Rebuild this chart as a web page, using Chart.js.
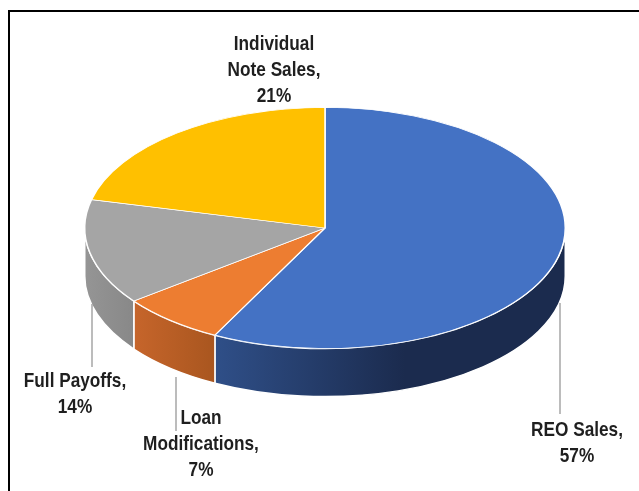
<!DOCTYPE html>
<html>
<head>
<meta charset="utf-8">
<script src="https://cdn.jsdelivr.net/npm/chart.js@4.4.0/dist/chart.umd.min.js"></script>
<style>
  html, body { margin: 0; padding: 0; background: #fff; overflow: hidden; }
  #wrap { position: relative; width: 639px; height: 491px; }
  #frame { position: absolute; left: 8px; top: 10px; width: 700px; height: 600px; border: 2.5px solid #000; }
  #pie { position: absolute; left: 0; top: 0; }
</style>
</head>
<body>
<div id="wrap">
  <div id="frame"></div>
  <canvas id="pie" width="639" height="491"></canvas>
</div>
<script>
// chart data
const categories = ['REO Sales', 'Loan Modifications', 'Full Payoffs', 'Individual Note Sales'];
const shares = [57, 7, 14, 21];

// colours for the top face and the side wall (left / right of gradient)
const topColors = ['#4472C4', '#ED7D31', '#A5A5A5', '#FFC000'];
const sideColors = [['#2F4F88', '#1B2B4E'], ['#C6652B', '#A9561F'], ['#959595', '#888888'], ['#BF9000', '#A67C00']];

// label placement: centre x, first line centre y, leader line
const labelLayout = [
    { x: 577, y: 430, line: [560, 303, 414] },
    { x: 201, y: 418, line: [176, 377, 431] },
    { x: 75, y: 381, line: [92, 304, 367] },
    { x: 274, y: 44, line: null }
];

// Draws the pie as a tilted disc: side walls first, then squash the arcs
const pie3d = {
    id: 'pie3d',
    beforeDatasetsDraw(chart, args, opts) {
        const ctx = chart.ctx;
        const arcs = chart.getDatasetMeta(0).data;
        const cx = arcs[0].x, cy0 = arcs[0].y, r = arcs[0].outerRadius;
        const ry = r * opts.tilt;

        arcs.forEach(function (arc, i) {
            const a1 = Math.max(arc.startAngle, 0);
            const a2 = Math.min(arc.endAngle, Math.PI);
            if (a2 <= a1) return;
            const xl = cx + r * Math.cos(a2);
            const xr = cx + r * Math.cos(a1);
            const grad = ctx.createLinearGradient(xl, 0, Math.min(xr, xl + 190), 0);
            grad.addColorStop(0, sideColors[i][0]);
            grad.addColorStop(1, sideColors[i][1]);
            ctx.beginPath();
            ctx.ellipse(cx, opts.centerY, r, ry, 0, a1, a2);
            ctx.ellipse(cx, opts.centerY + opts.depth, r, ry, 0, a2, a1, true);
            ctx.closePath();
            ctx.fillStyle = grad;
            ctx.fill();
            ctx.strokeStyle = '#fff';
            ctx.lineWidth = 1.5;
            ctx.stroke();
        });

        ctx.save();
        ctx.translate(0, opts.centerY);
        ctx.scale(1, opts.tilt);
        ctx.translate(0, -cy0);
    },
    afterDatasetsDraw(chart) {
        chart.ctx.restore();
    }
};

// Data labels with leader lines (narrow bold text = squeezed Liberation Sans)
const pieLabels = {
    id: 'pieLabels',
    afterDraw(chart) {
        const ctx = chart.ctx;
        const squeeze = 0.82;
        const lineH = 26;
        ctx.save();
        ctx.font = 'bold 21px "Liberation Sans", Arial, sans-serif';
        ctx.textAlign = 'center';
        ctx.textBaseline = 'middle';
        categories.forEach(function (name, i) {
            const pos = labelLayout[i];
            if (pos.line) {
                ctx.strokeStyle = '#A6A6A6';
                ctx.lineWidth = 1.5;
                ctx.beginPath();
                ctx.moveTo(pos.line[0], pos.line[1]);
                ctx.lineTo(pos.line[0], pos.line[2]);
                ctx.stroke();
            }
            // wrap the name into lines no wider than ~120px
            const words = (name + ',').split(' ');
            const lines = [];
            let cur = '';
            words.forEach(function (w) {
                const test = cur ? cur + ' ' + w : w;
                if (cur && ctx.measureText(test).width * squeeze > 120) {
                    lines.push(cur);
                    cur = w;
                } else {
                    cur = test;
                }
            });
            lines.push(cur);
            lines.push(shares[i] + '%');
            ctx.fillStyle = '#1F1F1F';
            lines.forEach(function (t, j) {
                ctx.save();
                ctx.translate(pos.x, pos.y + j * lineH);
                ctx.scale(squeeze, 1);
                ctx.fillText(t, 0, 0);
                ctx.restore();
            });
        });
        ctx.restore();
    }
};

new Chart(document.getElementById('pie'), {
    type: 'pie',
    data: {
        labels: categories,
        datasets: [{
            data: shares,
            backgroundColor: topColors,
            borderColor: '#ffffff',
            borderWidth: 1.5
        }]
    },
    options: {
        responsive: false,
        animation: false,
        events: [],
        layout: { padding: { left: 84, right: 73, top: 0, bottom: 9 } },
        plugins: {
            legend: { display: false },
            tooltip: { enabled: false },
            pie3d: { tilt: 0.502, centerY: 228, depth: 48 }
        }
    },
    plugins: [pie3d, pieLabels]
});
</script>
</body>
</html>
